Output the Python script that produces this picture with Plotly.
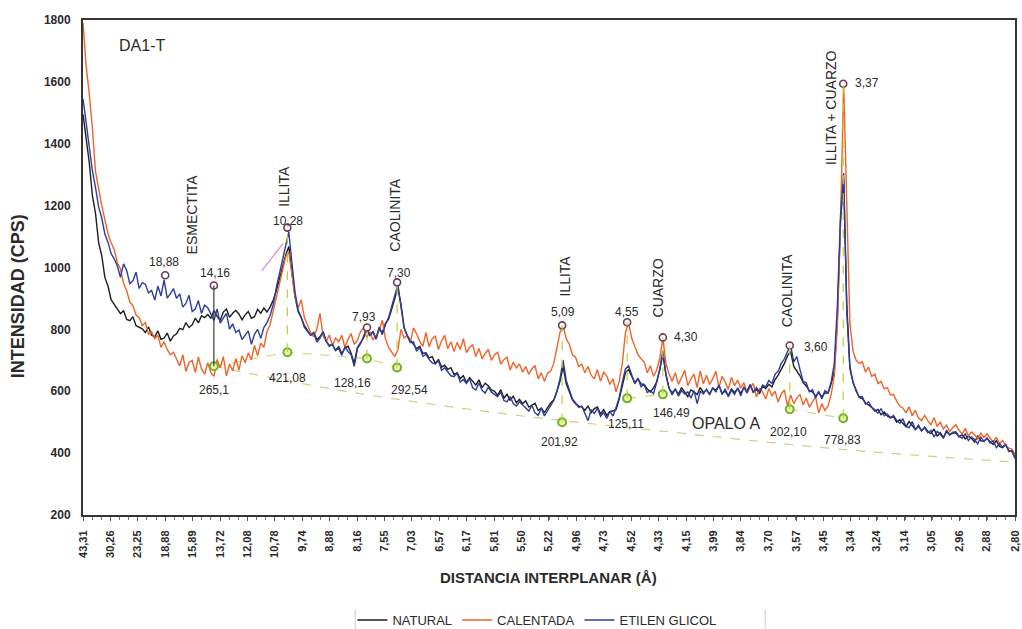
import numpy as np
import plotly.graph_objects as go

# Cu K-alpha wavelength (Å) used to place d-spacings on the 2-theta scan axis
LAMBDA_CU = 1.5406


def two_theta(d):
    d = np.asarray(d, dtype=float)
    return 2.0 * np.degrees(np.arcsin(LAMBDA_CU / (2.0 * d)))


# ---------------------------------------------------------------- axis labels
d_tick_labels = [43.31, 30.26, 23.25, 18.88, 15.89, 13.72, 12.08, 10.78, 9.74,
                 8.88, 8.16, 7.55, 7.03, 6.57, 6.17, 5.81, 5.50, 5.22, 4.96,
                 4.73, 4.52, 4.33, 4.15, 3.99, 3.84, 3.70, 3.57, 3.45, 3.34,
                 3.24, 3.14, 3.05, 2.96, 2.88, 2.80]

# scan positions (degrees 2-theta), one reading every 0.1 degree
scan_2theta = np.round(2.04 + 0.1 * np.arange(300), 2)

# ---------------------------------------------------------------- intensities (CPS)
natural = [
    1495, 1425, 1338, 1232, 1175, 1080, 1038, 968, 940, 896,
    882, 868, 851, 860, 832, 828, 841, 812, 808, 802,
    790, 808, 781, 776, 795, 768, 772, 788, 762, 779,
    786, 803, 799, 822, 806, 815, 836, 821, 844, 838,
    848, 836, 861, 842, 829, 856, 866, 839, 852, 861,
    850, 831, 847, 858, 836, 841, 865, 852, 869, 856,
    872, 895, 925, 965, 1000, 1040, 1068, 990, 905, 858,
    838, 812, 798, 781, 790, 767, 776, 792, 761, 748,
    750, 733, 744, 722, 739, 746, 722, 690, 741, 757,
    772, 800, 781, 792, 770, 805, 788, 819, 833, 865,
    905, 935, 880, 805, 780, 766, 751, 738, 745, 722,
    724, 708, 712, 690, 703, 678, 684, 671, 676, 654,
    660, 641, 650, 628, 644, 633, 620, 637, 612, 626,
    618, 604, 600, 587, 605, 578, 590, 571, 584, 563,
    574, 560, 569, 549, 556, 561, 538, 546, 531, 548,
    562, 572, 598, 632, 680, 625, 598, 572, 560, 552,
    550, 538, 553, 531, 544, 549, 526, 541, 522, 535,
    536, 541, 575, 620, 660, 670, 648, 628, 641, 624,
    622, 607, 598, 611, 630, 668, 720, 652, 609, 595,
    606, 590, 612, 597, 583, 604, 598, 589, 612, 596,
    604, 592, 610, 603, 618, 594, 600, 586, 607, 596,
    608, 593, 612, 601, 621, 598, 606, 592, 616, 609,
    622, 614, 638, 652, 670, 690, 715, 728, 680, 665,
    650, 628, 617, 601, 598, 584, 596, 582, 595, 594,
    625, 665, 840, 1150, 1285, 880, 680, 628, 605, 580,
    576, 562, 556, 548, 536, 541, 524, 533, 520, 514,
    518, 500, 508, 497, 485, 502, 488, 476, 490, 472,
    484, 470, 463, 478, 455, 466, 450, 469, 460, 465,
    466, 452, 460, 446, 455, 448, 436, 455, 440, 438,
    447, 436, 428, 440, 422, 418, 428, 408, 405, 385,
]

calentada = [
    1790, 1650, 1560, 1450, 1310, 1250, 1200, 1155, 1110, 1080,
    1058, 1015, 995, 948, 925, 889, 876, 846, 838, 812,
    822, 785, 792, 770, 781, 742, 760, 735, 718, 726,
    705, 682, 718, 664, 693, 700, 661, 710, 672, 655,
    692, 660, 648, 703, 676, 712, 650, 688, 666, 705,
    668, 715, 692, 724, 702, 748, 715, 755, 742, 793,
    815, 860, 905, 950, 1000, 1035, 1050, 980, 905, 870,
    895, 838, 812, 790, 776, 800, 852, 779, 760, 782,
    748, 772, 760, 781, 742, 768, 786, 752, 764, 792,
    805, 774, 792, 766, 780, 795, 830, 770, 742, 728,
    712, 735, 800, 772, 781, 758, 805, 785, 762, 745,
    790, 744, 770, 778, 735, 762, 781, 738, 760, 728,
    758, 735, 770, 725, 742, 750, 712, 738, 705, 722,
    735, 700, 718, 726, 688, 702, 710, 668, 694, 675,
    688, 662, 680, 655, 672, 683, 640, 660, 632, 658,
    665, 690, 740, 790, 812, 770, 752, 718, 710, 680,
    688, 660, 680, 652, 640, 670, 632, 661, 650, 622,
    640, 598, 632, 690, 790, 822, 772, 745, 718, 705,
    695, 660, 682, 648, 668, 705, 772, 690, 655, 632,
    660, 622, 648, 668, 618, 640, 655, 612, 666, 624,
    652, 622, 640, 665, 612, 648, 630, 606, 645, 618,
    636, 610, 628, 594, 612, 625, 582, 608, 598, 575,
    608, 586, 600, 565, 592, 604, 552, 588, 560, 578,
    590, 556, 578, 548, 566, 582, 530, 560, 538, 552,
    590, 650, 820, 1150, 1594, 1160, 820, 730, 700, 690,
    695, 662, 678, 648, 655, 625, 632, 608, 612, 588,
    590, 568, 552, 546, 530, 550, 521, 538, 514, 505,
    522, 505, 492, 514, 486, 500, 478, 490, 470, 482,
    492, 474, 462, 480, 456, 468, 460, 446, 465, 450,
    462, 448, 436, 452, 430, 441, 425, 416, 413, 395,
]

etilen_glicol = [
    1545, 1468, 1395, 1312, 1258, 1196, 1160, 1108, 1082, 1045,
    1028, 1005, 968, 1012, 990, 948, 957, 985, 932, 951,
    946, 918, 926, 895, 940, 908, 960, 901, 915, 932,
    900, 915, 872, 884, 910, 858, 866, 893, 851, 878,
    870, 848, 829, 866, 820, 836, 852, 801, 818, 790,
    798, 767, 781, 795, 752, 784, 800, 771, 806, 822,
    845, 880, 935, 980, 1030, 1075, 1115, 1015, 920, 862,
    838, 806, 794, 781, 788, 759, 771, 793, 762, 745,
    752, 731, 739, 716, 744, 728, 718, 680, 738, 754,
    778, 805, 779, 793, 768, 808, 783, 815, 838, 872,
    910, 945, 872, 805, 779, 757, 760, 729, 741, 713,
    719, 703, 692, 688, 699, 668, 676, 664, 650, 647,
    659, 630, 638, 625, 640, 611, 604, 627, 603, 594,
    613, 597, 588, 582, 598, 570, 566, 583, 560, 552,
    566, 557, 546, 536, 554, 530, 522, 546, 520, 538,
    555, 570, 600, 640, 700, 635, 605, 575, 562, 548,
    552, 530, 505, 540, 528, 545, 519, 531, 512, 535,
    520, 548, 580, 630, 672, 682, 650, 624, 641, 615,
    621, 596, 602, 592, 628, 672, 730, 655, 610, 588,
    608, 584, 602, 591, 598, 578, 602, 560, 600, 591,
    607, 588, 612, 597, 620, 589, 608, 582, 603, 590,
    611, 585, 614, 594, 622, 595, 612, 598, 620, 614,
    635, 625, 655, 665, 690, 705, 728, 748, 695, 712,
    670, 632, 628, 598, 605, 578, 600, 575, 602, 595,
    630, 690, 880, 1170, 1305, 860, 672, 630, 600, 582,
    582, 558, 566, 548, 540, 529, 544, 521, 526, 515,
    522, 506, 497, 511, 487, 482, 502, 476, 486, 472,
    482, 466, 474, 452, 470, 461, 448, 474, 458, 468,
    469, 455, 448, 462, 441, 452, 444, 430, 452, 438,
    449, 432, 440, 418, 431, 420, 427, 405, 408, 382,
]

# ---------------------------------------------------------------- picked peaks
peak_d = [18.88, 14.16, 10.28, 7.93, 7.30, 5.09, 4.55, 4.30, 3.60, 3.37]
peak_cps = [975, 942, 1129, 806, 952, 813, 823, 774, 748, 1594]

# background points under the peaks and their net areas
base_d = [14.16, 10.28, 7.93, 7.30, 5.09, 4.55, 4.30, 3.60, 3.37]
base_cps = [681, 726, 706, 677, 500, 577, 590, 542, 513]
base_area = ["265,1", "421,08", "128,16", "292,54", "201,92",
             "125,11", "146,49", "202,10", "778,83"]

# amorphous (opal-A) hump baseline
opalo_2theta = [6.24, 10.28, 15.42, 21.19, 26.65, 31.94]
opalo_cps = [681, 603, 529, 465, 410, 371]

# mineral names, placed by 2-theta and CPS
mineral_names = ["ESMECTITA", "ILLITA", "CAOLINITA", "ILLITA",
                 "CUARZO", "CAOLINITA", "ILLITA + CUARZO"]
mineral_2theta = [5.53, 8.49, 12.05, 17.50, 20.48, 24.62, 26.04]
mineral_cps = [1171, 1261, 1171, 974, 935, 926, 1516]

# ---------------------------------------------------------------- styling
FONT = "Liberation Sans, Arial, sans-serif"
TXT = "#2a2a2a"
C_NAT = "#1e1e1e"
C_CAL = "#ee6428"
C_EG = "#2f3d9c"
C_DROP = "#b9d23e"
C_BASE = "#d5c888"

# label offsets in pixels (dx, dy) relative to their markers
peak_label_shift = [(-1, 13), (1, 12), (1, 7), (-3, 11), (2, 9), (1, 13),
                    (0, 10), (23, 0), (26, -2), (24, 1)]
base_label_shift = [(0, -24), (0, -26), (-14, -25), (12, -23), (-3, -20),
                    (-1, -26), (9, -19), (-1, -23), (-1, -22)]


def comma(v):
    return f"{v:.2f}".replace(".", ",")


tick_vals = two_theta(d_tick_labels)
tick_text = [comma(d) for d in d_tick_labels]
minor_step = (tick_vals[-1] - tick_vals[0]) / ((len(tick_vals) - 1) * 3)

fig = go.Figure()

# amorphous baseline and local backgrounds (dashed)
fig.add_trace(go.Scatter(x=opalo_2theta, y=opalo_cps, mode="lines",
                         line=dict(color=C_BASE, width=1.2, dash="dash", shape="spline"),
                         showlegend=False, hoverinfo="skip"))
base_x = two_theta(base_d)
for grp in ([0, 1, 2, 3], [5, 6], [7, 8]):
    fig.add_trace(go.Scatter(x=[base_x[i] for i in grp], y=[base_cps[i] for i in grp],
                             mode="lines",
                             line=dict(color="#d3d77a", width=1.1, dash="dash"),
                             showlegend=False, hoverinfo="skip"))

# drop lines from each picked peak down to its background point
shapes = []
for d, b in zip(base_d, base_cps):
    i = peak_d.index(d)
    x = float(two_theta(d))
    dark = d == 14.16
    shapes.append(dict(type="line", xref="x", yref="y", x0=x, x1=x, y0=b, y1=peak_cps[i],
                       line=dict(color="#3a3a3a" if dark else C_DROP, width=1.2,
                                 dash="solid" if dark else "dash"), layer="above"))

# diffractograms
fig.add_trace(go.Scatter(x=scan_2theta, y=natural, mode="lines", name="NATURAL",
                         line=dict(color=C_NAT, width=1.4)))
fig.add_trace(go.Scatter(x=scan_2theta, y=calentada, mode="lines", name="CALENTADA",
                         line=dict(color=C_CAL, width=1.4)))
fig.add_trace(go.Scatter(x=scan_2theta, y=etilen_glicol, mode="lines", name="ETILEN GLICOL",
                         line=dict(color=C_EG, width=1.4)))

# peak and background markers
fig.add_trace(go.Scatter(x=two_theta(peak_d), y=peak_cps, mode="markers",
                         marker=dict(symbol="circle", size=7, color="white",
                                     line=dict(color="#6c3a5a", width=1.6)),
                         showlegend=False, hoverinfo="skip"))
fig.add_trace(go.Scatter(x=base_x, y=base_cps, mode="markers",
                         marker=dict(symbol="circle", size=8, color="#eef4a8",
                                     line=dict(color="#6db22c", width=2)),
                         showlegend=False, hoverinfo="skip"))

annotations = []
for d, y, (dx, dy) in zip(peak_d, peak_cps, peak_label_shift):
    annotations.append(dict(x=float(two_theta(d)), y=y, xref="x", yref="y", text=comma(d),
                            showarrow=False, xshift=dx, yshift=dy,
                            font=dict(family=FONT, size=12, color=TXT)))
for d, y, t, (dx, dy) in zip(base_d, base_cps, base_area, base_label_shift):
    annotations.append(dict(x=float(two_theta(d)), y=y, xref="x", yref="y", text=t,
                            showarrow=False, xshift=dx, yshift=dy,
                            font=dict(family=FONT, size=12, color=TXT)))
for t, x, y in zip(mineral_names, mineral_2theta, mineral_cps):
    annotations.append(dict(x=x, y=y, xref="x", yref="y", text=t, textangle=-90,
                            showarrow=False, xanchor="center", yanchor="middle",
                            font=dict(family=FONT, size=14, color=TXT)))
annotations.append(dict(x=22.67, y=497, xref="x", yref="y", text="OPALO A", showarrow=False,
                        font=dict(family=FONT, size=16, color=TXT)))
annotations.append(dict(x=3.93, y=1716, xref="x", yref="y", text="DA1-T", showarrow=False,
                        font=dict(family=FONT, size=16, color=TXT)))
# axis titles
annotations.append(dict(x=0.499, y=-0.127, xref="paper", yref="paper",
                        text="<b>DISTANCIA INTERPLANAR (Å)</b>", showarrow=False,
                        xanchor="center", yanchor="middle",
                        font=dict(family=FONT, size=15, color=TXT)))
annotations.append(dict(x=-0.0697, y=0.442, xref="paper", yref="paper",
                        text="<b>INTENSIDAD (CPS)</b>", showarrow=False, textangle=-90,
                        xanchor="center", yanchor="middle",
                        font=dict(family=FONT, size=18, color=TXT)))

# short leader line beside the 10,28 peak
shapes.append(dict(type="line", xref="x", yref="y", x0=7.78, y0=990, x1=8.45, y1=1077,
                   line=dict(color="#d889d8", width=1.2)))
# faint legend frame edges
for xp in (0.292, 0.732):
    shapes.append(dict(type="line", xref="paper", yref="paper", x0=xp, x1=xp,
                       y0=-0.19, y1=-0.24, line=dict(color="#cfcfcf", width=1)))

fig.update_layout(
    width=1022, height=629,
    margin=dict(l=83, r=7, t=20, b=114),
    paper_bgcolor="white", plot_bgcolor="white",
    font=dict(family=FONT, color=TXT),
    showlegend=True,
    legend=dict(orientation="h", x=0.487, xref="paper", y=0.0143, yref="container",
                xanchor="center", yanchor="middle",
                font=dict(family=FONT, size=13, color=TXT), itemwidth=30,
                bgcolor="rgba(0,0,0,0)"),
    annotations=annotations,
    shapes=shapes,
)
fig.update_xaxes(range=[float(tick_vals[0]), float(tick_vals[-1])], tickmode="array",
                 tickvals=tick_vals, ticktext=tick_text, tickangle=-90,
                 tickfont=dict(family=FONT, size=11, color=TXT, weight="bold"),
                 ticks="outside", ticklen=4, tickcolor="#555", ticklabelstandoff=5,
                 minor=dict(ticks="outside", ticklen=3, tickcolor="#777",
                            tick0=float(tick_vals[0]), dtick=float(minor_step)),
                 showline=True, linecolor="#3a3333", linewidth=2, mirror=True,
                 showgrid=False, zeroline=False, automargin=False)
fig.update_yaxes(range=[200, 1800], tickmode="linear", tick0=200, dtick=200,
                 tickfont=dict(family=FONT, size=12, color=TXT, weight="bold"),
                 ticks="", ticklabelstandoff=8,
                 showline=True, linecolor="#3a3333", linewidth=2, mirror=True,
                 showgrid=False, zeroline=False, automargin=False)

fig.write_html("out.html")
